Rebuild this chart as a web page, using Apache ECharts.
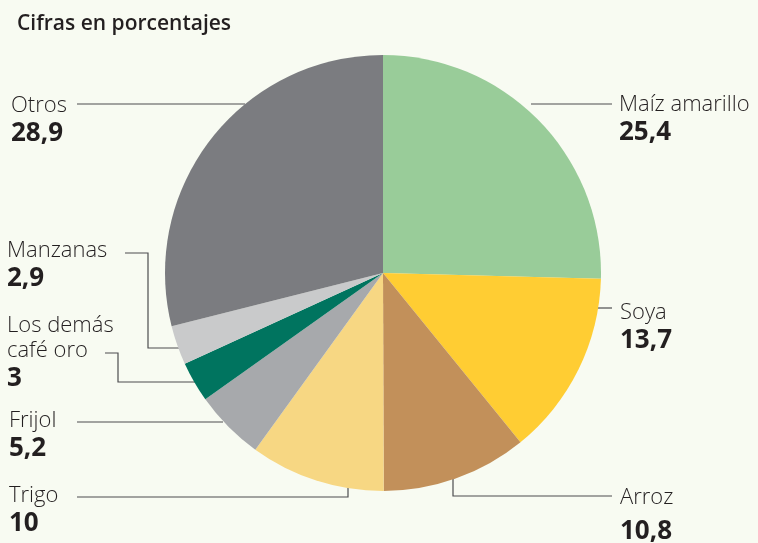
<!DOCTYPE html>
<html>
<head>
<meta charset="utf-8">
<script src="https://cdn.jsdelivr.net/npm/echarts@6/dist/echarts.min.js"></script>
<style>
  html, body { margin: 0; padding: 0; background: #F8FBF2; }
  #chart { width: 758px; height: 543px; }
</style>
</head>
<body>
<div id="chart"></div>
<script>
  // datos (porcentajes)
  var productos = ['Maíz amarillo', 'Soya', 'Arroz', 'Trigo', 'Frijol', 'Los demás\ncafé oro', 'Manzanas', 'Otros'];
  var valores = [25.4, 13.7, 10.8, 10, 5.2, 3, 2.9, 28.9];
  var colores = ['#99CC99', '#FFCD33', '#C2905A', '#F7D783', '#A7A9AC', '#00745F', '#C9CACB', '#7B7C80'];

  // posicion de etiquetas y guias (x, y de la etiqueta, puntos de la linea)
  var etiquetas = [
    { x: 619, y: 92, line: [[531, 104], [612, 104]] },
    { x: 620, y: 300, line: [[598, 308], [612, 308]] },
    { x: 620, y: 485, line: [[453, 479], [453, 496], [612, 496]], lejos: true },
    { x: 9, y: 483, line: [[348, 488], [348, 497], [77, 497]] },
    { x: 9, y: 408, line: [[223, 422], [77, 422]] },
    { x: 7, y: 313, line: [[195, 382], [118, 382], [118, 353], [105, 353]] },
    { x: 7, y: 238, line: [[179, 348], [148, 348], [148, 253], [125, 253]] },
    { x: 11, y: 93, line: [[245, 104], [77, 104]] }
  ];

  var datos = [];
  for (var i = 0; i < productos.length; i++) {
    datos.push({ name: productos[i], value: valores[i], itemStyle: { color: colores[i] } });
  }

  var chart = echarts.init(document.getElementById('chart'));

  var option = {
    backgroundColor: '#F8FBF2',
    animation: false,
    title: {
      text: 'Cifras en porcentajes',
      left: 12,
      top: 9,
      textStyle: {
        fontFamily: 'Open Sans',
        fontWeight: 600,
        fontSize: 21,
        color: '#231F20'
      }
    },
    series: [
      {
        type: 'pie',
        center: [383, 273],
        radius: 218,
        startAngle: 90,
        clockwise: true,
        data: datos,
        label: {
          show: true,
          color: '#231F20',
          formatter: function (p) {
            var v = String(p.value).replace('.', ',');
            var nombre = p.name.split('\n').map(function (s) { return '{n|' + s + '}'; }).join('\n');
            var estilo = etiquetas[p.dataIndex].lejos ? 'vl' : 'v';
            return nombre + '\n{' + estilo + '|' + v + '}';
          },
          rich: {
            n: { fontFamily: 'Open Sans', fontWeight: 300, fontSize: 22, lineHeight: 25, color: '#231F20' },
            v: { fontFamily: 'Open Sans', fontWeight: 'bold', fontSize: 26, lineHeight: 32, color: '#231F20' },
            vl: { fontFamily: 'Open Sans', fontWeight: 'bold', fontSize: 26, lineHeight: 43, color: '#231F20' }
          }
        },
        labelLine: {
          show: true,
          lineStyle: { color: '#4D4D4F', width: 1.2 }
        },
        labelLayout: function (params) {
          var e = etiquetas[params.dataIndex];
          return {
            x: e.x,
            y: e.y,
            align: 'left',
            verticalAlign: 'top',
            labelLinePoints: e.line
          };
        }
      }
    ]
  };

  chart.setOption(option);
</script>
</body>
</html>
